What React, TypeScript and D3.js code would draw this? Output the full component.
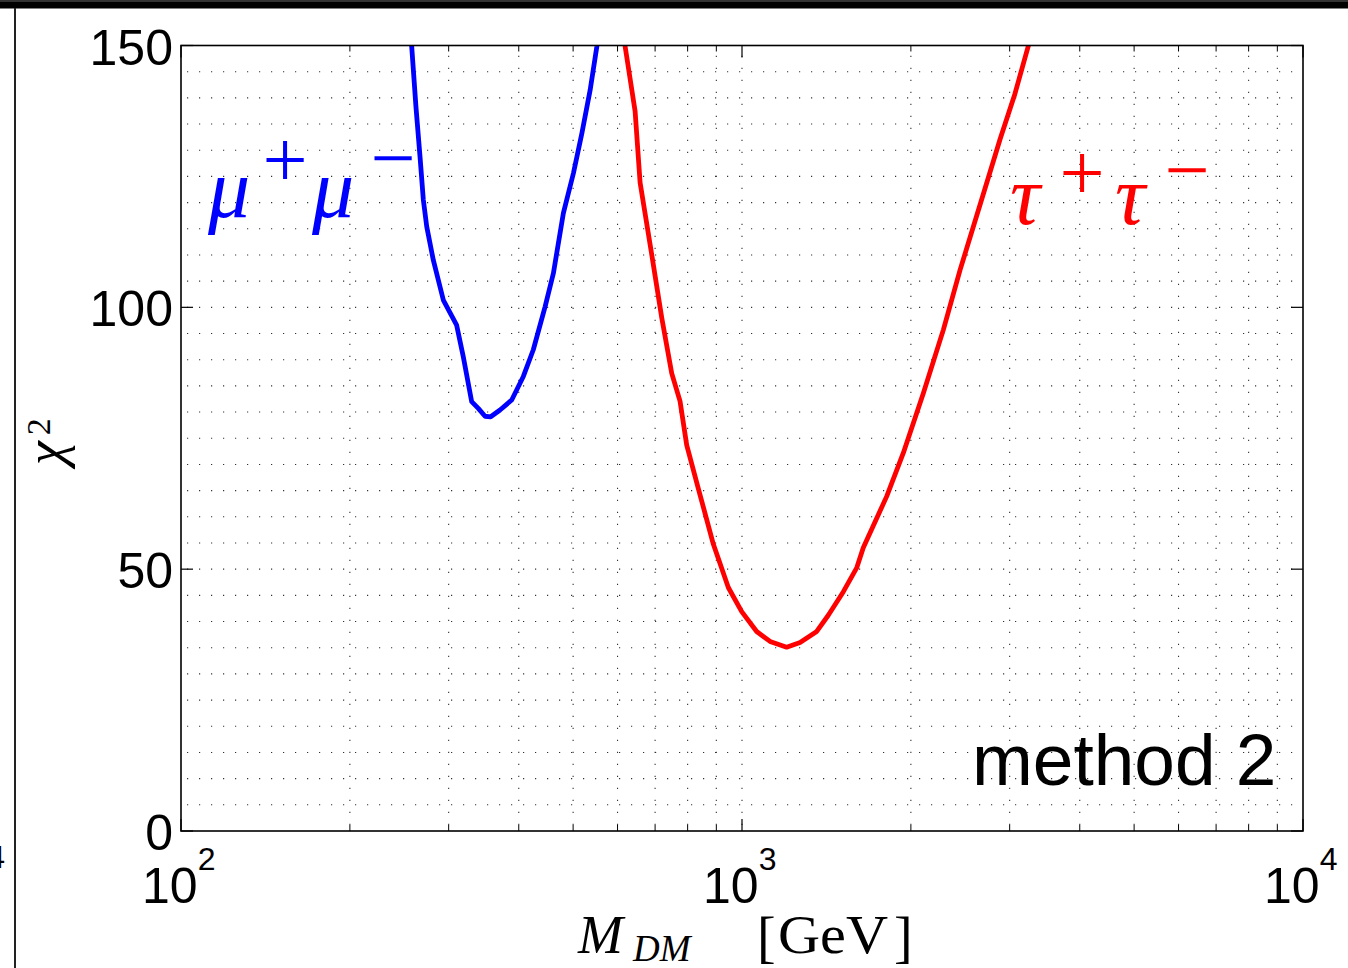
import React from "react";
import * as d3 from "d3";

// Data (M_DM in GeV, chi^2)
const muMass = [257.7, 262.3, 266.7, 270.4, 274.2, 281.7, 293.5, 310.0, 318.5, 329.7, 338.8, 348.3, 356.5, 370.4, 388.6, 407.6, 424.6, 445.6, 461.1, 480.4, 500.6, 518.2, 536.2, 551.1, 556];
const muChi2 = [150, 138.3, 128.8, 120.5, 115.4, 109.0, 101.4, 96.6, 90.6, 82.0, 80.7, 79.2, 79.1, 80.4, 82.3, 86.8, 91.9, 100.1, 106.5, 118.0, 125.6, 133.2, 141.5, 149.8, 153];

const tauMass = [612, 618.6, 644.9, 658.2, 690.3, 719.4, 749.5, 775.4, 797.0, 835.9, 888.9, 945.4, 998.8, 1062, 1122, 1201, 1269, 1359, 1425, 1516, 1602, 1645, 1811, 1939, 2105, 2285, 2447, 2731, 2884, 3066, 3238, 3300];
const tauChi2 = [156, 150, 137.4, 123.8, 110.1, 98.0, 87.4, 82.1, 73.7, 65.4, 54.8, 46.5, 41.9, 38.1, 36.2, 35.1, 36.0, 38.1, 41.2, 45.7, 50.3, 54.1, 63.9, 72.2, 83.6, 95.7, 107.1, 123.8, 132.1, 140.8, 149.9, 153];

const xDomain = [100, 10000];
const yDomain = [0, 150];
const xMajorTicks = [100, 1000, 10000];
const xTickExponents = ["2", "3", "4"];
const xMinorTicks = [200, 300, 400, 500, 600, 700, 800, 900, 2000, 3000, 4000, 5000, 6000, 7000, 8000, 9000];
const yMajorTicks = [0, 50, 100, 150];
const yGridStep = 5;

const L = 181, R = 1303, T = 45.5, B = 831;

export default function App() {
  const x = d3.scaleLog().domain(xDomain).range([L, R]);
  const y = d3.scaleLinear().domain(yDomain).range([B, T]);
  const line = d3.line<[number, number]>().x(d => x(d[0])).y(d => y(d[1]));
  const muPts = muMass.map((m, i) => [m, muChi2[i]] as [number, number]);
  const tauPts = tauMass.map((m, i) => [m, tauChi2[i]] as [number, number]);
  const yGrid = d3.range(yDomain[0] + yGridStep, yDomain[1], yGridStep);
  const vGrid = xMinorTicks.concat([1000]);
  const sans = "'Liberation Sans', Arial, Helvetica, sans-serif";
  const serif = "'Liberation Serif', 'Times New Roman', serif";
  const dot = { stroke: "#333", strokeWidth: 1.1, strokeDasharray: "1.2 10.8" };

  return (
    <svg width={1348} height={968} style={{ position: "absolute", left: 0, top: 0, background: "#fff" }}>
      <rect x={0} y={0} width={1348} height={968} fill="#fff" />
      {/* frame remnants */}
      <rect x={0} y={0} width={1348} height={8.5} fill="#000" />
      <rect x={0} y={0} width={1348} height={2} fill="#333" />
      <line x1={15} x2={15} y1={8} y2={968} stroke="#222" strokeWidth={2} />
      <text x={5} y={868} fontSize={32} fontFamily={sans} textAnchor="end">4</text>

      <defs>
        <clipPath id="plotclip">
          <rect x={L} y={T} width={R - L} height={B - T} />
        </clipPath>
      </defs>

      {/* grid */}
      {yGrid.map(v => (
        <line key={"hy" + v} x1={L + 6} x2={R} y1={y(v)} y2={y(v)} {...dot} />
      ))}
      {vGrid.map(v => (
        <line key={"vx" + v} x1={x(v)} x2={x(v)} y1={B - 6} y2={T} {...dot} />
      ))}

      {/* ticks */}
      {xMajorTicks.map(v => (
        <g key={"xt" + v}>
          <line x1={x(v)} x2={x(v)} y1={B} y2={B - 12} stroke="#000" strokeWidth={1.2} />
          <line x1={x(v)} x2={x(v)} y1={T} y2={T + 12} stroke="#000" strokeWidth={1.2} />
        </g>
      ))}
      {xMinorTicks.map(v => (
        <g key={"xm" + v}>
          <line x1={x(v)} x2={x(v)} y1={B} y2={B - 6} stroke="#000" strokeWidth={1} />
          <line x1={x(v)} x2={x(v)} y1={T} y2={T + 6} stroke="#000" strokeWidth={1} />
        </g>
      ))}
      {yMajorTicks.map(v => (
        <g key={"yt" + v}>
          <line x1={L} x2={L + 12} y1={y(v)} y2={y(v)} stroke="#000" strokeWidth={1.2} />
          <line x1={R} x2={R - 12} y1={y(v)} y2={y(v)} stroke="#000" strokeWidth={1.2} />
        </g>
      ))}

      {/* curves */}
      <g clipPath="url(#plotclip)">
        <path d={line(muPts) || ""} fill="none" stroke="#0000ff" strokeWidth={4.8} strokeLinejoin="round" />
        <path d={line(tauPts) || ""} fill="none" stroke="#ff0000" strokeWidth={4.8} strokeLinejoin="round" />
      </g>

      {/* box */}
      <rect x={L} y={T} width={R - L} height={B - T} fill="none" stroke="#000" strokeWidth={1.6} />

      {/* y tick labels */}
      {yMajorTicks.map(v => (
        <text key={"yl" + v} x={173} y={y(v) + 19} fontSize={50} fontFamily={sans} textAnchor="end">{v}</text>
      ))}
      {/* x tick labels */}
      {xMajorTicks.map((v, i) => (
        <text key={"xl" + v} x={x(v) - 39} y={903} fontSize={50} fontFamily={sans}>
          10<tspan dy={-33} fontSize={32}>{xTickExponents[i]}</tspan>
        </text>
      ))}

      {/* axis labels */}
      <text x={578} y={953} fontSize={54} fontFamily={serif} fontStyle="italic">M</text>
      <text x={633} y={961} fontSize={37} fontFamily={serif} fontStyle="italic">DM</text>
      <text x={757} y={956} fontSize={56} fontFamily={serif}>[</text>
      <text x={778} y={953} fontSize={54} fontFamily={serif} textLength={110} lengthAdjust="spacingAndGlyphs">GeV</text>
      <text x={894} y={956} fontSize={56} fontFamily={serif}>]</text>

      <text transform="translate(63,465) rotate(-90)" fontSize={54} fontFamily={serif} fontStyle="italic">
        χ<tspan dx={6} dy={-13} fontSize={34} fontStyle="normal">2</tspan>
      </text>

      {/* curve labels */}
      <g fill="#0000ff" fontFamily={serif}>
        <text x={208} y={217} fontSize={84} fontStyle="italic">μ</text>
        <text x={285} y={187} fontSize={80} textAnchor="middle">+</text>
        <text x={312} y={217} fontSize={84} fontStyle="italic">μ</text>
        <text x={393} y={185} fontSize={80} textAnchor="middle">−</text>
      </g>
      <g fill="#ff0000" fontFamily={serif}>
        <text x={1010} y={224} fontSize={84} fontStyle="italic">τ</text>
        <text x={1082} y={200} fontSize={80} textAnchor="middle">+</text>
        <text x={1115} y={224} fontSize={84} fontStyle="italic">τ</text>
        <text x={1187} y={197} fontSize={80} textAnchor="middle">−</text>
      </g>

      <text x={972} y={785} fontSize={73} fontFamily={sans}>method 2</text>
    </svg>
  );
}
